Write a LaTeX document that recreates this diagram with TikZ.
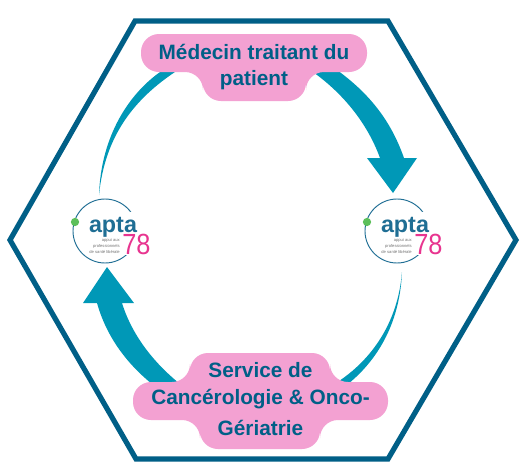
\documentclass[tikz,border=0pt]{standalone}
\usepackage{graphicx}
\usepackage{fontspec}
\setmainfont{Liberation Sans}
\definecolor{navy}{HTML}{005F87}
\definecolor{teal}{HTML}{0098B7}
\definecolor{pinkbox}{HTML}{F3A1D2}
\definecolor{logoblue}{HTML}{1F6E94}
\definecolor{logopink}{HTML}{E8348F}
\definecolor{logogreen}{HTML}{5CBF5A}
\tikzset{
  hexline/.style={draw=navy,line width=3.9pt,line join=miter},
  arrowfill/.style={fill=teal,draw=none},
  pinkfill/.style={fill=pinkbox,draw=none,rounded corners=13.5pt},
  label/.style={text=navy,font=\fontsize{15.6}{22}\selectfont\bfseries,inner sep=0pt},
  aptaword/.style={text=logoblue,font=\fontsize{17.5}{18}\selectfont\bfseries,inner sep=0pt},
  aptanum/.style={text=logopink,font=\fontsize{19}{19}\selectfont,inner sep=0pt},
  aptasmall/.style={text=black!55,font=\fontsize{3.1}{4.5}\selectfont,align=right,inner sep=0pt},
  ringline/.style={draw=logoblue,line width=0.7pt},
  dotfill/.style={fill=logogreen,draw=none,circle,minimum size=6.2pt,inner sep=0pt}
}
\newcommand{\aptalogo}[3]{%
  \begin{scope}[shift={(#1,#2)}]
    \coordinate (#3c) at (0,0);
    \draw[ringline] (0,0) circle[radius=32];
    \fill[white] (-14,-19) rectangle (50,24);
    \node[dotfill] (#3dot) at (-30,-9) {};
    \node[aptaword,anchor=base] (#3word) at (8,1) {apta};
    \node[aptanum,anchor=base] (#3num) at (31.5,23) {\scalebox{1}[1.15]{78}};
    \node[aptasmall,anchor=north east] (#3small) at (15,7) {appui aux\\professionnels\\de santé libérale};
  \end{scope}}
\begin{document}
\begin{tikzpicture}[x=0.75pt,y=-0.75pt]
\useasboundingbox (0,0) rectangle (526,472);
\fill[white] (0,0) rectangle (526,472);
% hexagon
\draw[hexline] (135,21) -- (388,21) -- (516,240) -- (388,459) -- (136,459) -- (10,240) -- cycle;
% top right thick arrow
\fill[arrowfill] (313,72) .. controls (345,95) and (368,125) .. (380,158) -- (367,158) -- (393,193) -- (417,158) -- (404,158) .. controls (390,118) and (367,92) .. (337,70) -- cycle;
% top left thin tapered
\fill[arrowfill] (99,195) .. controls (101,135) and (130,92) .. (163,70) -- (178,70) .. controls (135,98) and (105,135) .. (99,195) -- cycle;
% bottom left thick arrow
\fill[arrowfill] (97,303) -- (83,303) -- (107,267) -- (134,303) -- (122,303) .. controls (132,335) and (153,362) .. (180,384) -- (152,384) .. controls (125,362) and (106,335) .. (97,303) -- cycle;
% bottom right thin tapered
\fill[arrowfill] (402,272) .. controls (400,320) and (380,358) .. (348,384) -- (336,383) .. controls (372,360) and (398,322) .. (402,272) -- cycle;
% pink labels
\fill[pinkfill] (141,34) -- (367,34) -- (367,72) -- (306,72) -- (306,101) -- (203,101) -- (203,72) -- (141,72) -- cycle;
\fill[pinkfill] (190,353) -- (330,353) -- (330,382) -- (388,382) -- (388,420) -- (320,420) -- (320,449) -- (200,449) -- (200,420) -- (133,420) -- (133,382) -- (190,382) -- cycle;
\node[label] (medecin1) at (254,52) {Médecin traitant du};
\node[label] (medecin2) at (254,80.5) {patient};
\node[label] (service1) at (260.5,370.5) {Service de};
\node[label] (service2) at (260.5,399) {Cancérologie \& Onco-};
\node[label] (service3) at (260.5,428) {Gériatrie};
% logos
\aptalogo{105}{231}{la}
\aptalogo{397}{231}{lb}
\end{tikzpicture}
\end{document}
